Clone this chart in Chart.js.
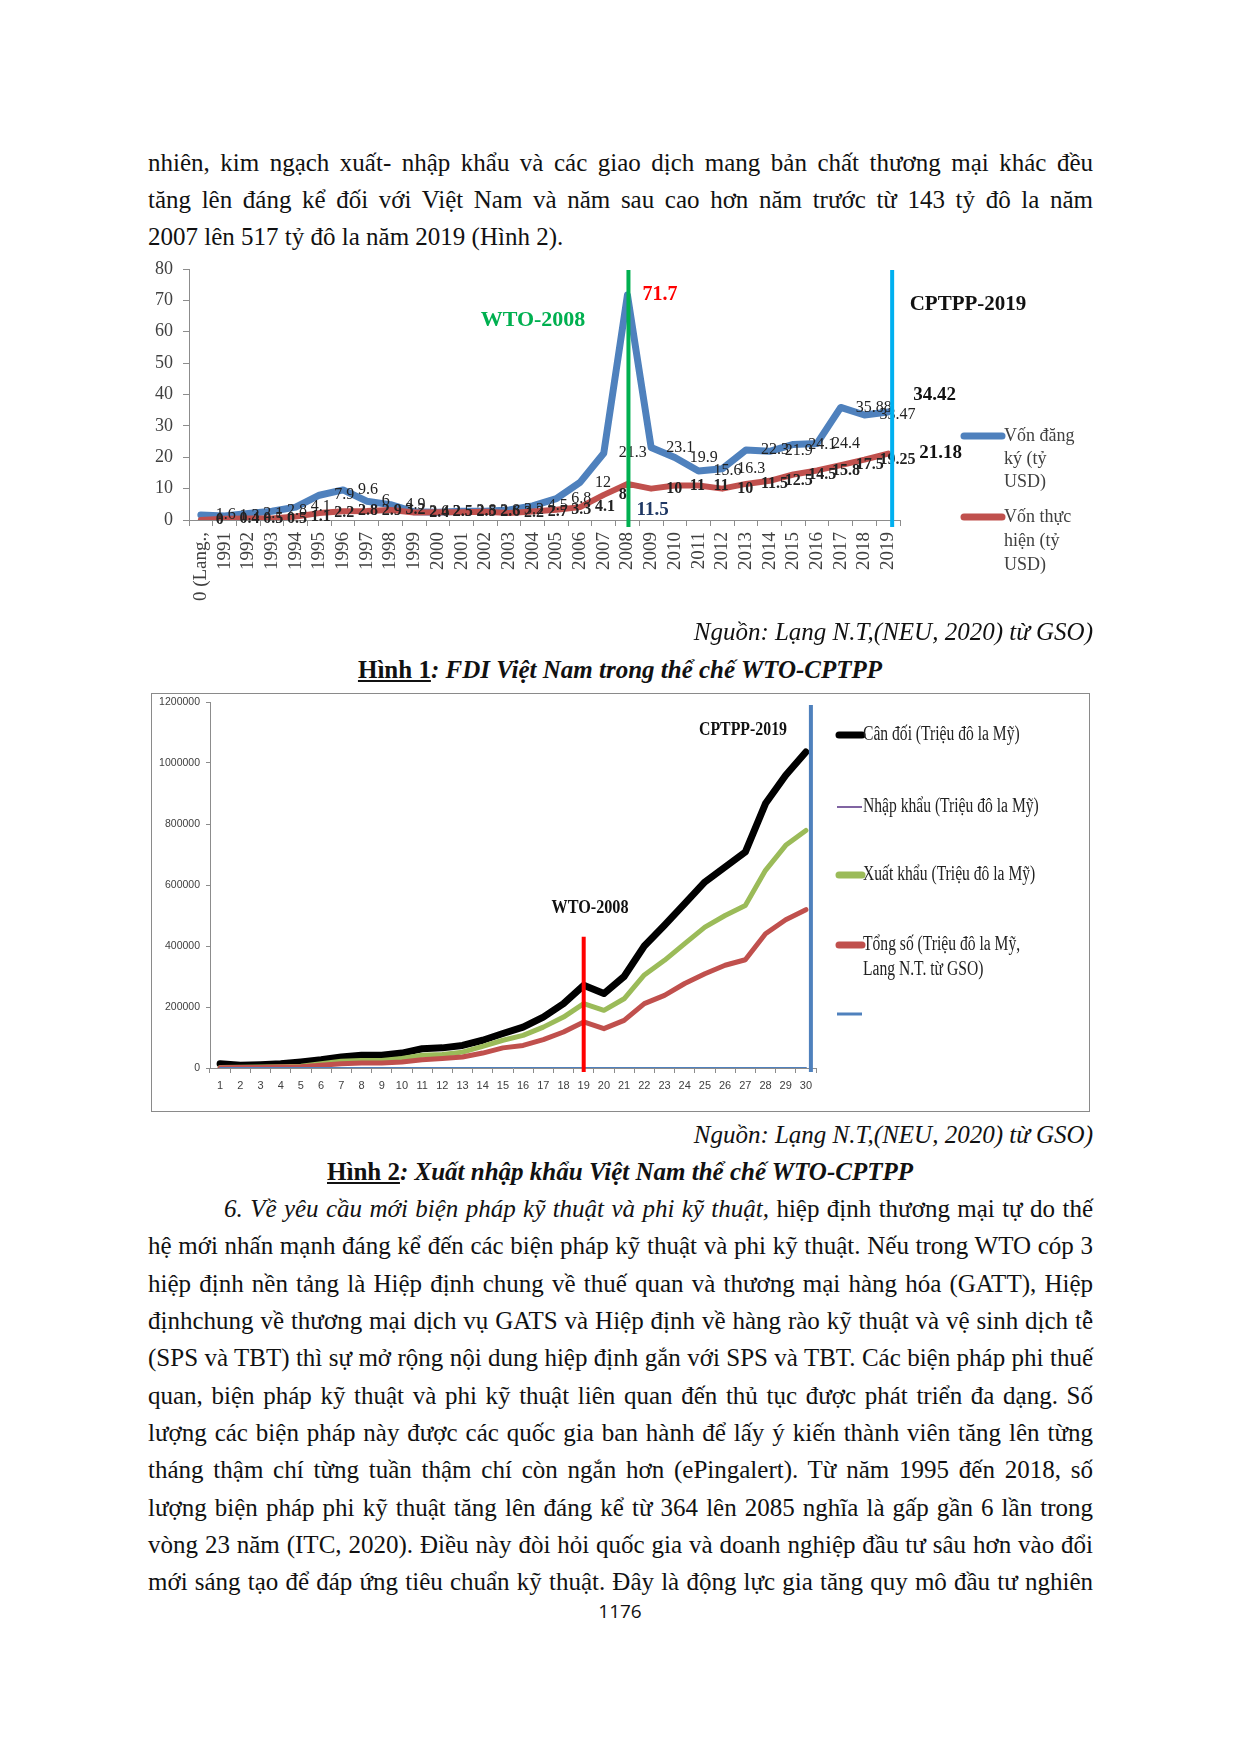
<!DOCTYPE html>
<html lang="vi">
<head>
<meta charset="utf-8">
<title>FDI và xuất nhập khẩu Việt Nam</title>
<script src="https://cdn.jsdelivr.net/npm/chart.js@4.4.1/dist/chart.umd.min.js"></script>
<style>
  html, body { margin: 0; padding: 0; background: #fff; }
  #page { position: relative; width: 1240px; height: 1754px; overflow: hidden;
          font-family: "Liberation Serif", "Times New Roman", serif; color: #111; }
  .ln, .src, .cap { position: absolute; height: 37px; font-size: 25px; line-height: 37px; }
  .ln { left: 148px; width: 945px; text-align: justify; text-align-last: justify; }
  .ln.last { text-align-last: left; }
  .src { left: 148px; width: 945px; text-align: right; font-style: italic; }
  .cap { left: 0; width: 1240px; text-align: center; font-weight: bold; }
  .cap u { font-style: normal; }
  .cap i { font-style: italic; }
  .frame { position: absolute; left: 151px; top: 693px; width: 939px; height: 419px;
           border: 1.5px solid #8a8a8a; box-sizing: border-box; }
  canvas { position: absolute; }
  #pageNo { position: absolute; left: 0; width: 1240px; top: 1598px; text-align: center;
            font-family: "Open Sans", "Liberation Sans", sans-serif; font-size: 19px; }
</style>
</head>
<body>
<div id="page">
  <div class="ln" style="top:144px">nhiên, kim ngạch xuất- nhập khẩu và các giao dịch mang bản chất thương mại khác đều</div>
  <div class="ln" style="top:181px">tăng lên đáng kể đối với Việt Nam và năm sau cao hơn năm trước từ 143 tỷ đô la năm</div>
  <div class="ln last" style="top:218px">2007 lên 517 tỷ đô la năm 2019 (Hình 2).</div>

  <canvas id="fdiChart" width="960" height="360" style="left:140px; top:255px"></canvas>

  <div class="src" style="top:613px">Nguồn: Lạng N.T,(NEU, 2020) từ GSO)</div>
  <div class="cap" style="top:651px"><u>Hình 1</u><i>: FDI Việt Nam trong thể chế WTO-CPTPP</i></div>

  <div class="frame"></div>
  <canvas id="tradeChart" width="939" height="419" style="left:151px; top:693px"></canvas>

  <div class="src" style="top:1116px">Nguồn: Lạng N.T,(NEU, 2020) từ GSO)</div>
  <div class="cap" style="top:1153px"><u>Hình 2</u><i>: Xuất nhập khẩu Việt Nam thể chế WTO-CPTPP</i></div>

  <div class="ln" style="top:1190px; left:224px; width:869px"><i>6. Về yêu cầu mới biện pháp kỹ thuật và phi kỹ thuật,</i> hiệp định thương mại tự do thế</div>
  <div class="ln" style="top:1227px">hệ mới nhấn mạnh đáng kể đến các biện pháp kỹ thuật và phi kỹ thuật. Nếu trong WTO cóp 3</div>
  <div class="ln" style="top:1265px">hiệp định nền tảng là Hiệp định chung về thuế quan và thương mại hàng hóa (GATT), Hiệp</div>
  <div class="ln" style="top:1302px">địnhchung về thương mại dịch vụ GATS và Hiệp định về hàng rào kỹ thuật và vệ sinh dịch tễ</div>
  <div class="ln" style="top:1339px">(SPS và TBT) thì sự mở rộng nội dung hiệp định gắn với SPS và TBT. Các biện pháp phi thuế</div>
  <div class="ln" style="top:1377px">quan, biện pháp kỹ thuật và phi kỹ thuật liên quan đến thủ tục được phát triển đa dạng. Số</div>
  <div class="ln" style="top:1414px">lượng các biện pháp này được các quốc gia ban hành để lấy ý kiến thành viên tăng lên từng</div>
  <div class="ln" style="top:1451px">tháng thậm chí từng tuần thậm chí còn ngắn hơn (ePingalert). Từ năm 1995 đến 2018, số</div>
  <div class="ln" style="top:1489px">lượng biện pháp phi kỹ thuật tăng lên đáng kể từ 364 lên 2085 nghĩa là gấp gần 6 lần trong</div>
  <div class="ln" style="top:1526px">vòng 23 năm (ITC, 2020). Điều này đòi hỏi quốc gia và doanh nghiệp đầu tư sâu hơn vào đổi</div>
  <div class="ln" style="top:1563px">mới sáng tạo để đáp ứng tiêu chuẩn kỹ thuật. Đây là động lực gia tăng quy mô đầu tư nghiên</div>
  <div id="pageNo">1176</div>
</div>

<script>
// keep every text line on one line: shrink a little if it would wrap
document.querySelectorAll(".ln, .src, .cap").forEach(el => {
  let size = 25;
  while (el.scrollHeight > 40 && size > 18) {
    size -= 0.25;
    el.style.fontSize = size + "px";
  }
});

// ---- Hình 1: FDI data (tỷ USD) ----
const fdiYears = ["0 (Lang.,", "1991", "1992", "1993", "1994", "1995", "1996", "1997", "1998", "1999",
  "2000", "2001", "2002", "2003", "2004", "2005", "2006", "2007", "2008", "2009",
  "2010", "2011", "2012", "2013", "2014", "2015", "2016", "2017", "2018", "2019"];
const fdiRegistered = [1.6, 1.3, 2.1, 2.8, 4.1, 7.9, 9.6, 6, 4.9, 2.6,
  2.5, 2.8, 2.8, 3.2, 4.5, 6.8, 12, 21.3, 71.7, 23.1,
  19.9, 15.6, 16.3, 22.3, 21.9, 24.1, 24.4, 35.88, 33.47, 34.42];
const fdiImplemented = [0, 0.4, 0.5, 0.5, 1.1, 2.2, 2.8, 2.9, 3.2, 2.4,
  2.5, 2.5, 2.6, 2.2, 2.7, 3.3, 4.1, 8, 11.5, 10,
  11, 11, 10, 11.5, 12.5, 14.5, 15.8, 17.5, 19.25, 21.18];
const fdiYTicks = [0, 10, 20, 30, 40, 50, 60, 70, 80];

// ---- Hình 2: trade data (Triệu đô la Mỹ) ----
const tradeIndex = ["1", "2", "3", "4", "5", "6", "7", "8", "9", "10", "11", "12", "13", "14", "15",
  "16", "17", "18", "19", "20", "21", "22", "23", "24", "25", "26", "27", "28", "29", "30"];
const tradeBalance = [14000, 9000, 11000, 14000, 20000, 27000, 36000, 42000, 42000, 49000,
  63000, 66000, 74000, 91000, 113000, 134000, 167000, 211000, 271000, 244000,
  300000, 400000, 468000, 539000, 610000, 659000, 708000, 867000, 960000, 1036000];
const tradeImports = [0, 0, 0, 0, 0, 0, 0, 0, 0, 0, 0, 0, 0, 0, 0,
  0, 0, 0, 0, 0, 0, 0, 0, 0, 0, 0, 0, 0, 0, 0];
const tradeExports = [2000, 2500, 3000, 4000, 6000, 14000, 22000, 25000, 25000, 31000,
  42000, 44000, 52000, 71000, 91000, 107000, 134000, 167000, 211000, 189000,
  227000, 305000, 353000, 408000, 462000, 500000, 533000, 648000, 730000, 779000];
const tradeTotal = [1000, 1500, 2000, 3000, 4500, 9000, 14000, 16000, 16000, 20000,
  27000, 31000, 36000, 49000, 66000, 74000, 93000, 118000, 151000, 129000,
  156000, 211000, 238000, 277000, 309000, 337000, 355000, 440000, 486000, 519000];
const tradeBlank = [0, 0, 0, 0, 0, 0, 0, 0, 0, 0, 0, 0, 0, 0, 0,
  0, 0, 0, 0, 0, 0, 0, 0, 0, 0, 0, 0, 0, 0, 0];
const tradeYTicks = [0, 200000, 400000, 600000, 800000, 1000000, 1200000];

const SERIF = "'Liberation Serif', 'Times New Roman', serif";
const AXIS = "#8c8c8c";

function narrowText(ctx, text, x, y, font, color, sx, align) {
  ctx.save();
  ctx.font = font;
  ctx.fillStyle = color;
  ctx.textBaseline = "middle";
  ctx.textAlign = align || "left";
  ctx.translate(x, y);
  ctx.scale(sx, 1);
  ctx.fillText(text, 0, 0);
  ctx.restore();
}

function vLine(ctx, x, y1, y2, color, w) {
  ctx.save();
  ctx.strokeStyle = color;
  ctx.lineWidth = w;
  ctx.beginPath();
  ctx.moveTo(x, y1);
  ctx.lineTo(x, y2);
  ctx.stroke();
  ctx.restore();
}

function legendMark(ctx, x1, x2, y, color, w) {
  ctx.save();
  ctx.strokeStyle = color;
  ctx.lineWidth = w;
  ctx.lineCap = w > 3 ? "round" : "butt";
  ctx.beginPath();
  ctx.moveTo(x1, y);
  ctx.lineTo(x2, y);
  ctx.stroke();
  ctx.restore();
}

// no extra top/bottom room for the y tick labels, layout padding decides it
function tightY(width) {
  return s => { s.width = width; s.paddingTop = 0; s.paddingBottom = 0; };
}

// special data label styles (dataset-index)
const fdiLabelStyle = {
  "0-18": { font: "bold 20px " + SERIF, color: "#ff0000", dx: 15, dy: 0 },
  "1-18": { font: "bold 19px " + SERIF, color: "#1f3864", dx: 9, dy: 26 },
  "0-29": { font: "bold 19px " + SERIF, color: "#111", dx: 25, dy: -17 },
  "1-29": { font: "bold 19px " + SERIF, color: "#111", dx: 31, dy: 0 },
};

const fdiDecor = {
  id: "fdiDecor",
  afterDatasetsDraw(chart) {
    const ctx = chart.ctx;
    const x = chart.scales.x, y = chart.scales.y, area = chart.chartArea;

    // data labels, to the right of each point
    chart.data.datasets.forEach((ds, di) => {
      ds.data.forEach((v, i) => {
        const st = fdiLabelStyle[di + "-" + i] || {
          font: (di === 1 ? "bold " : "") + "16px " + SERIF,
          color: "#222", dx: 15, dy: 0,
        };
        ctx.save();
        ctx.font = st.font;
        ctx.fillStyle = st.color;
        ctx.textBaseline = "middle";
        ctx.fillText(String(v), x.getPixelForValue(i) + st.dx, y.getPixelForValue(v) + st.dy);
        ctx.restore();
      });
    });

    // WTO / CPTPP markers
    vLine(ctx, x.getPixelForValue(18) + 1, area.top + 1, area.bottom + 7, "#00b050", 4);
    vLine(ctx, x.getPixelForValue(29) + 4, area.top + 1, area.bottom + 7, "#00b0f0", 4);

    ctx.save();
    ctx.textBaseline = "middle";
    ctx.textAlign = "center";
    ctx.font = "bold 22px " + SERIF;
    ctx.fillStyle = "#00b050";
    ctx.fillText("WTO-2008", 393, 65);
    ctx.font = "bold 21px " + SERIF;
    ctx.fillStyle = "#111";
    ctx.fillText("CPTPP-2019", 828, 50);
    ctx.restore();

    // legend
    legendMark(ctx, 824, 862, 181, "#4f81bd", 7);
    legendMark(ctx, 824, 862, 262, "#c0504d", 7);
    ctx.save();
    ctx.font = "18px " + SERIF;
    ctx.fillStyle = "#404040";
    ctx.textBaseline = "middle";
    ["Vốn đăng", "ký (tỷ", "USD)"].forEach((t, k) => ctx.fillText(t, 864, 181 + k * 23));
    ["Vốn thực", "hiện (tỷ", "USD)"].forEach((t, k) => ctx.fillText(t, 864, 262 + k * 24));
    ctx.restore();
  },
};

new Chart(document.getElementById("fdiChart").getContext("2d"), {
  type: "line",
  data: {
    labels: fdiYears,
    datasets: [
      { label: "Vốn đăng ký (tỷ USD)", data: fdiRegistered, borderColor: "#4f81bd", borderWidth: 7,
        pointRadius: 0, tension: 0, borderJoinStyle: "round", borderCapStyle: "round", order: 1 },
      { label: "Vốn thực hiện (tỷ USD)", data: fdiImplemented, borderColor: "#c0504d", borderWidth: 6,
        pointRadius: 0, tension: 0, borderJoinStyle: "round", borderCapStyle: "round", order: 0 },
    ],
  },
  options: {
    responsive: false,
    animation: false,
    layout: { padding: { top: 14, right: 200, left: 0, bottom: 0 } },
    plugins: { legend: { display: false }, tooltip: { enabled: false } },
    scales: {
      x: {
        offset: true,
        border: { display: true, color: AXIS, width: 1 },
        grid: { offset: true, drawOnChartArea: false, tickLength: 6, color: AXIS },
        ticks: { autoSkip: false, minRotation: 90, maxRotation: 90, padding: 6,
                 color: "#404040", font: { family: "Liberation Serif", size: 19 } },
        afterFit: s => { s.height = 95; },
      },
      y: {
        min: 0, max: 80,
        afterBuildTicks: s => { s.ticks = fdiYTicks.map(v => ({ value: v })); },
        border: { display: true, color: AXIS, width: 1 },
        grid: { drawOnChartArea: false, tickLength: 6, color: AXIS },
        ticks: { padding: 10, color: "#404040", font: { family: "Liberation Serif", size: 18 } },
        afterFit: tightY(49),
      },
    },
  },
  plugins: [fdiDecor],
});

// ---- Hình 2 ----
const tradeDecor = {
  id: "tradeDecor",
  afterDatasetsDraw(chart) {
    const ctx = chart.ctx;
    const x = chart.scales.x, y = chart.scales.y, area = chart.chartArea;

    vLine(ctx, x.getPixelForValue(29) + 5, area.top + 3, area.bottom + 4, "#4f81bd", 4);
    vLine(ctx, x.getPixelForValue(18), y.getPixelForValue(430000), area.bottom + 4, "#ff0000", 4);

    narrowText(ctx, "CPTPP-2019", 592, 37, "bold 18px " + SERIF, "#111", 0.88, "center");
    narrowText(ctx, "WTO-2008", 439, 215, "bold 18px " + SERIF, "#111", 0.9, "center");

    const tf = "20px " + SERIF, tc = "#222", sx = 0.78;
    legendMark(ctx, 688, 711, 42, "#000000", 7);
    narrowText(ctx, "Cân đối (Triệu đô la Mỹ)", 712, 42, tf, tc, sx);
    legendMark(ctx, 686, 711, 114, "#8064a2", 2);
    narrowText(ctx, "Nhập khẩu (Triệu đô la Mỹ)", 712, 114, tf, tc, sx);
    legendMark(ctx, 688, 711, 182, "#9bbb59", 7);
    narrowText(ctx, "Xuất khẩu (Triệu đô la Mỹ)", 712, 182, tf, tc, sx);
    legendMark(ctx, 688, 711, 252, "#c0504d", 7);
    narrowText(ctx, "Tổng số (Triệu đô la Mỹ,", 712, 252, tf, tc, sx);
    narrowText(ctx, "Lang N.T. từ GSO)", 712, 277, tf, tc, sx);
    legendMark(ctx, 686, 711, 321, "#4f81bd", 3);
  },
};

function tradeSet(label, data, color, width) {
  return { label, data, borderColor: color, borderWidth: width, pointRadius: 0, tension: 0,
           borderJoinStyle: "round", borderCapStyle: "round" };
}

new Chart(document.getElementById("tradeChart").getContext("2d"), {
  type: "line",
  data: {
    labels: tradeIndex,
    datasets: [
      Object.assign(tradeSet("", tradeBlank, "#4f81bd", 2), { order: 0 }),
      Object.assign(tradeSet("Tổng số (Triệu đô la Mỹ, Lang N.T. từ GSO)", tradeTotal, "#c0504d", 5), { order: 1 }),
      Object.assign(tradeSet("Xuất khẩu (Triệu đô la Mỹ)", tradeExports, "#9bbb59", 5), { order: 2 }),
      Object.assign(tradeSet("Nhập khẩu (Triệu đô la Mỹ)", tradeImports, "#8064a2", 1.5), { order: 3 }),
      Object.assign(tradeSet("Cân đối (Triệu đô la Mỹ)", tradeBalance, "#000000", 7), { order: 4 }),
    ],
  },
  options: {
    responsive: false,
    animation: false,
    layout: { padding: { top: 9, right: 274, left: 0, bottom: 0 } },
    plugins: { legend: { display: false }, tooltip: { enabled: false } },
    scales: {
      x: {
        offset: true,
        border: { display: true, color: AXIS, width: 1 },
        grid: { offset: true, drawOnChartArea: false, tickLength: 5, color: AXIS },
        ticks: { autoSkip: false, maxRotation: 0, padding: 6, color: "#404040",
                 font: { family: "Liberation Sans", size: 11 } },
        afterFit: s => { s.height = 44; },
      },
      y: {
        min: 0, max: 1200000,
        afterBuildTicks: s => { s.ticks = tradeYTicks.map(v => ({ value: v })); },
        border: { display: true, color: AXIS, width: 1 },
        grid: { drawOnChartArea: false, tickLength: 4, color: AXIS },
        ticks: { padding: 6, color: "#404040", font: { family: "Liberation Sans", size: 10.5 },
                 callback: v => String(v) },
        afterFit: tightY(59),
      },
    },
  },
  plugins: [tradeDecor],
});
</script>
</body>
</html>
